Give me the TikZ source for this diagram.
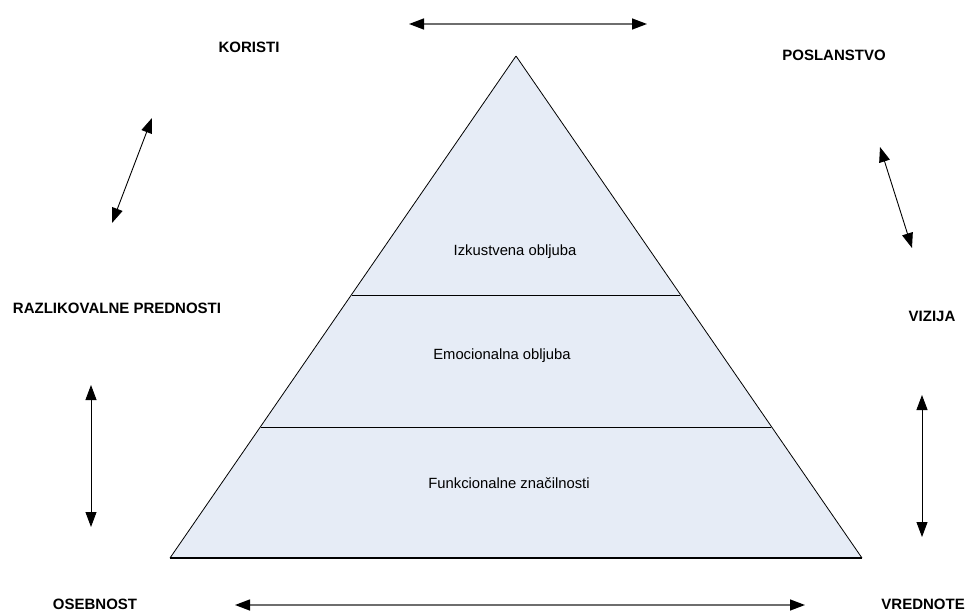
\documentclass[tikz,border=0pt]{standalone}
\usepackage{fontspec}
\setmainfont{Liberation Sans}
\usetikzlibrary{arrows.meta}
\definecolor{pyrfill}{RGB}{230,236,246}
\definecolor{arrgray}{RGB}{110,110,110}
\tikzset{
  lbl/.style={font=\fontsize{15}{17}\selectfont\bfseries, inner sep=0pt},
  tier/.style={font=\fontsize{14.8}{17}\selectfont, inner sep=0pt},
  dbl/.style={line width=0.9pt, {Triangle[length=15pt,width=11pt,black]}-{Triangle[length=15pt,width=11pt,black]}},
  grayarr/.style={dbl, draw=arrgray, line width=1.4pt},
  blackarr/.style={dbl, draw=black}
}
\begin{document}
\begin{tikzpicture}[x=1pt,y=-1pt]
\useasboundingbox (0,0) rectangle (970,613);
% pyramid
\coordinate (apex) at (516,56);
\coordinate (bl) at (170,558);
\coordinate (br) at (862,558);
\fill[pyrfill] (apex) -- (bl) -- (br) -- cycle;
\draw[line width=0.8pt] (apex) -- (bl);
\draw[line width=0.8pt] (apex) -- (br);
\draw[line width=1.1pt] (bl) -- (br);
\coordinate (l1a) at (352,295);
\coordinate (l1b) at (680,295);
\coordinate (l2a) at (261,427);
\coordinate (l2b) at (771,427);
\draw[line width=1pt] (l1a) -- (l1b);
\draw[line width=1pt] (l2a) -- (l2b);
\node[tier] (t1) at (515,252) {Izkustvena obljuba};
\node[tier] (t2) at (502,356) {Emocionalna obljuba};
\node[tier] (t3) at (509,483) {Funkcionalne značilnosti};
% labels
\node[lbl] (koristi) at (249,47) {KORISTI};
\node[lbl] (poslanstvo) at (834,55) {POSLANSTVO};
\node[lbl] (razl) at (117,308) {RAZLIKOVALNE PREDNOSTI};
\node[lbl] (vizija) at (932,316) {VIZIJA};
\node[lbl] (osebnost) at (95,604) {OSEBNOST};
\node[lbl, anchor=east] (vrednote) at (965,604) {VREDNOTE};
% arrows
\coordinate (ta) at (409,24);
\coordinate (tb) at (647,24);
\draw[grayarr] (ta) -- (tb);
\coordinate (ba) at (235,605);
\coordinate (bb) at (805,605);
\draw[grayarr] (ba) -- (bb);
\coordinate (lda) at (152,118);
\coordinate (ldb) at (112,223);
\draw[blackarr] (lda) -- (ldb);
\coordinate (rda) at (880,147);
\coordinate (rdb) at (912,248);
\draw[blackarr] (rda) -- (rdb);
\coordinate (lva) at (91,385);
\coordinate (lvb) at (91,527);
\draw[blackarr] (lva) -- (lvb);
\coordinate (rva) at (922,395);
\coordinate (rvb) at (922,537);
\draw[blackarr] (rva) -- (rvb);
\end{tikzpicture}
\end{document}
